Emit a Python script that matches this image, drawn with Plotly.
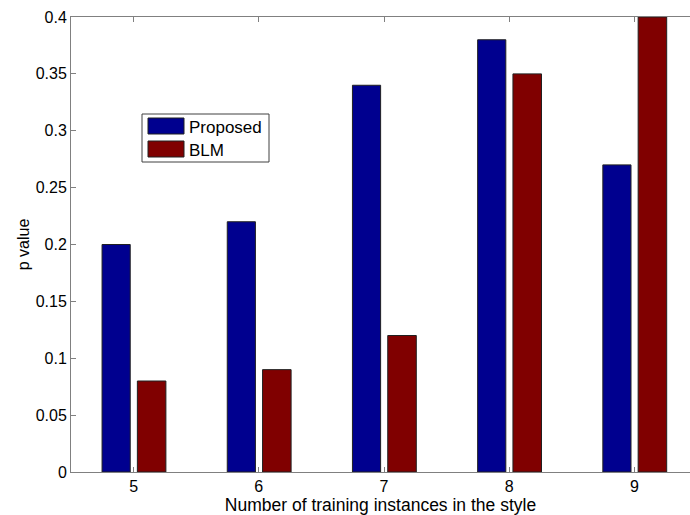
import plotly.graph_objects as go

categories = [5, 6, 7, 8, 9]
proposed = [0.20, 0.22, 0.34, 0.38, 0.27]
blm = [0.08, 0.09, 0.12, 0.35, 0.40]
series_names = ["Proposed", "BLM"]
y_ticks = [0, 0.05, 0.1, 0.15, 0.2, 0.25, 0.3, 0.35, 0.4]
y_tick_labels = ["0", "0.05", "0.1", "0.15", "0.2", "0.25", "0.3", "0.35", "0.4"]

BLUE = "#00008F"
RED = "#800000"
EDGE = "#202020"
AXIS = "#808080"
FONT = "Liberation Sans, Arial, sans-serif"

fig = go.Figure()
fig.add_trace(go.Bar(x=categories, y=proposed, name=series_names[0],
                     marker=dict(color=BLUE, line=dict(color=EDGE, width=1)),
                     width=0.225, offset=-0.252, showlegend=False))
fig.add_trace(go.Bar(x=categories, y=blm, name=series_names[1],
                     marker=dict(color=RED, line=dict(color=EDGE, width=1)),
                     width=0.228, offset=0.03, showlegend=False))

W, H = 690, 515
ml, mr, mt, mb = 71, 0, 17, 43
pw, ph = W - ml - mr, H - mt - mb

def px(x):
    return (x - ml) / pw

def py(y):
    return 1 - (y - mt) / ph

shapes = [
    dict(type="rect", xref="paper", yref="paper", x0=px(142), x1=px(269), y0=py(162), y1=py(114),
         line=dict(color="#404040", width=1), fillcolor="white", layer="above"),
    dict(type="rect", xref="paper", yref="paper", x0=px(148), x1=px(184), y0=py(134), y1=py(118),
         line=dict(color=EDGE, width=1), fillcolor=BLUE, layer="above"),
    dict(type="rect", xref="paper", yref="paper", x0=px(148), x1=px(184), y0=py(157), y1=py(141),
         line=dict(color=EDGE, width=1), fillcolor=RED, layer="above"),
]
annotations = [
    dict(xref="paper", yref="paper", x=px(187), y=py(127), text=series_names[0], showarrow=False,
         xanchor="left", yanchor="middle", font=dict(family=FONT, size=17, color="black")),
    dict(xref="paper", yref="paper", x=px(187), y=py(150), text=series_names[1], showarrow=False,
         xanchor="left", yanchor="middle", font=dict(family=FONT, size=17, color="black")),
]

fig.update_layout(
    width=W, height=H,
    margin=dict(l=ml, r=mr, t=mt, b=mb),
    paper_bgcolor="white", plot_bgcolor="white",
    font=dict(family=FONT, size=16, color="black"),
    barmode="group",
    shapes=shapes, annotations=annotations,
    xaxis=dict(
        range=[4.5, 9.5 - 7 / 125.3],
        tickmode="array", tickvals=categories, ticktext=[str(c) for c in categories],
        ticks="inside", ticklen=5, tickcolor=AXIS, tickwidth=1,
        showline=True, linecolor=AXIS, linewidth=1, mirror="ticks",
        showgrid=False, zeroline=False, automargin=False,
        title=dict(text="Number of training instances in the style", standoff=2,
                   font=dict(family=FONT, size=17.5)),
        tickfont=dict(family=FONT, size=16),
    ),
    yaxis=dict(
        range=[0, 0.4],
        tickmode="array", tickvals=y_ticks, ticktext=y_tick_labels,
        ticks="inside", ticklen=5, tickcolor=AXIS, tickwidth=1,
        showline=True, linecolor=AXIS, linewidth=1, mirror=False,
        showgrid=False, zeroline=False, automargin=False,
        title=dict(text="p value", standoff=2, font=dict(family=FONT, size=16)),
        tickfont=dict(family=FONT, size=16),
    ),
)

fig.write_html("out.html", config={"displayModeBar": False},
               post_script="document.body.style.margin='0';document.body.style.overflow='hidden';")
